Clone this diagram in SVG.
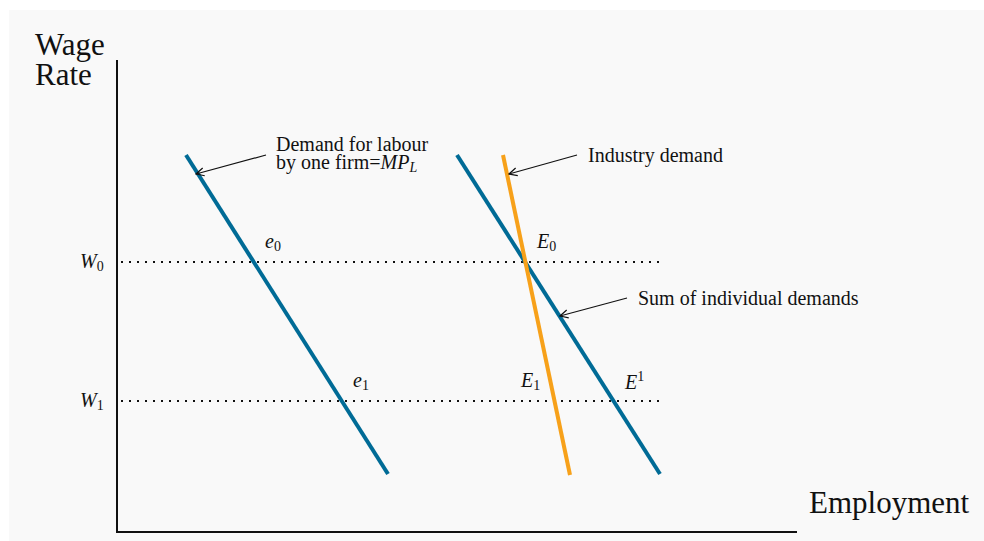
<svg xmlns="http://www.w3.org/2000/svg" width="984" height="541" viewBox="0 0 984 541" font-family="'Liberation Serif', 'DejaVu Serif', 'Times New Roman', serif">
<style>
text{fill:#111}
.ax{font-size:31px}
.lb{font-size:20px}
.it{font-style:italic;font-size:20px}
.sb{font-style:normal;font-size:14px}
.blue{stroke:#006b96;stroke-width:4;fill:none}
.orange{stroke:#f7a11a;stroke-width:4;fill:none}
.dot{stroke:#111;stroke-width:2;stroke-dasharray:2 6;fill:none}
.ptr{stroke:#111;stroke-width:1.2;fill:none;marker-end:url(#ah)}
</style>
<defs>
<marker id="ah" markerWidth="10" markerHeight="10" refX="9" refY="5" orient="auto" markerUnits="userSpaceOnUse">
<path d="M1,1 L9,5 L1,9" fill="none" stroke="#111" stroke-width="1.2"/>
</marker>
</defs>
<rect x="9" y="10" width="975" height="531" fill="#f9f9f9"/>
<g id="axes">
<line x1="117" y1="60" x2="117" y2="533" stroke="#111" stroke-width="2"/>
<line x1="116" y1="532" x2="797" y2="532" stroke="#111" stroke-width="2"/>
<text class="ax" x="35" y="55">Wage</text>
<text class="ax" x="35" y="85">Rate</text>
<text class="ax" x="809" y="513">Employment</text>
</g>
<g id="wage-levels">
<line class="dot" x1="121" y1="262" x2="664" y2="262"/>
<line class="dot" x1="121" y1="401" x2="664" y2="401"/>
<text class="it" x="80" y="268">W<tspan class="sb" dy="3">0</tspan></text>
<text class="it" x="80" y="407">W<tspan class="sb" dy="3">1</tspan></text>
</g>
<g id="firm-demand">
<line class="blue" x1="186" y1="155" x2="388" y2="474"/>
<text class="it" x="265" y="248">e<tspan class="sb" dy="3">0</tspan></text>
<text class="it" x="353" y="387">e<tspan class="sb" dy="3">1</tspan></text>
</g>
<g id="sum-demand">
<line class="blue" x1="457" y1="155" x2="660" y2="474"/>
<text class="it" x="625" y="389">E<tspan class="sb" dy="-8">1</tspan></text>
</g>
<g id="industry-demand">
<line class="orange" x1="503" y1="155" x2="570" y2="475"/>
<text class="it" x="537" y="248">E<tspan class="sb" dy="3">0</tspan></text>
<text class="it" x="521" y="387">E<tspan class="sb" dy="3">1</tspan></text>
</g>
<g id="labels">
<text class="lb" x="276" y="151">Demand for labour</text>
<text class="lb" x="276" y="169">by one firm=<tspan font-style="italic">MP</tspan><tspan font-style="italic" font-size="14" dy="3">L</tspan></text>
<text class="lb" x="588" y="162">Industry demand</text>
<text class="lb" x="638" y="305">Sum of individual demands</text>
</g>
<g id="connectors">
<line class="ptr" x1="266" y1="155" x2="196" y2="174"/>
<line class="ptr" x1="577" y1="155" x2="509" y2="174"/>
<line class="ptr" x1="627" y1="298" x2="560" y2="316"/>
</g>
</svg>
